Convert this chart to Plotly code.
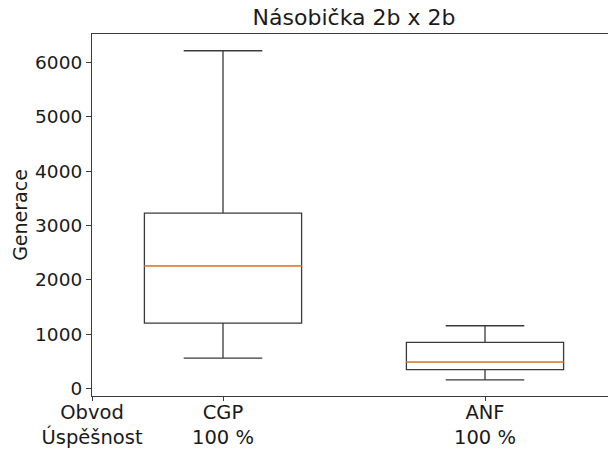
import plotly.graph_objects as go

# Data
circuits = ["CGP", "ANF"]
success = ["100 %", "100 %"]
positions = [1, 2]
lower_whisker = [560, 160]
q1 = [1203, 350]
median = [2256, 488]
q3 = [3226, 850]
upper_whisker = [6215, 1155]
y_ticks = [0, 1000, 2000, 3000, 4000, 5000, 6000]

box_width = 0.6
edge = "#3a3a3a"
font_family = "DejaVu Sans, Arial, sans-serif"

fig = go.Figure()
for i in range(len(circuits)):
    fig.add_trace(go.Box(
        x=[positions[i]],
        q1=[q1[i]], median=[median[i]], q3=[q3[i]],
        lowerfence=[lower_whisker[i]], upperfence=[upper_whisker[i]],
        width=box_width, whiskerwidth=0.5,
        fillcolor="rgba(255,255,255,0)",
        line=dict(color=edge, width=1.3),
        boxpoints=False, showlegend=False, hoverinfo="skip",
    ))
    fig.add_trace(go.Scatter(
        x=[positions[i] - box_width / 2, positions[i] + box_width / 2],
        y=[median[i], median[i]],
        mode="lines", line=dict(color="#ff9a3c", width=1.5),
        showlegend=False, hoverinfo="skip",
    ))

tickvals = [0.5] + positions
ticktext = ["Obvod<br>Úspěšnost"] + [f"{c}<br>{s}" for c, s in zip(circuits, success)]

fig.update_layout(
    width=608, height=441,
    margin=dict(l=84, r=0, t=26, b=50),
    paper_bgcolor="white", plot_bgcolor="white",
    font=dict(family=font_family, size=19, color="#1a1a1a"),
    title=dict(text="Násobička 2b x 2b", x=0.5, xanchor="center", y=1 - 2 / 441, yanchor="top",
               xref="paper", font=dict(size=22, color="#1a1a1a")),
    xaxis=dict(
        range=[0.5, 2.5], tickmode="array", tickvals=tickvals, ticktext=ticktext,
        showgrid=False, zeroline=False, showline=True, linecolor=edge, linewidth=1.2,
        mirror=True, ticks="outside", ticklen=4, tickcolor=edge,
        tickfont=dict(size=19.5), ticklabelstandoff=-6,
    ),
    yaxis=dict(
        range=[-137, 6523], tickmode="array", tickvals=y_ticks,
        ticktext=[str(v) for v in y_ticks],
        showgrid=False, zeroline=False, showline=True, linecolor=edge, linewidth=1.2,
        ticks="outside", ticklen=5, tickcolor=edge,
        title=dict(text="Generace", standoff=2, font=dict(size=19)),
        tickfont=dict(size=18.5),
    ),
)

fig.write_html("out.html")
